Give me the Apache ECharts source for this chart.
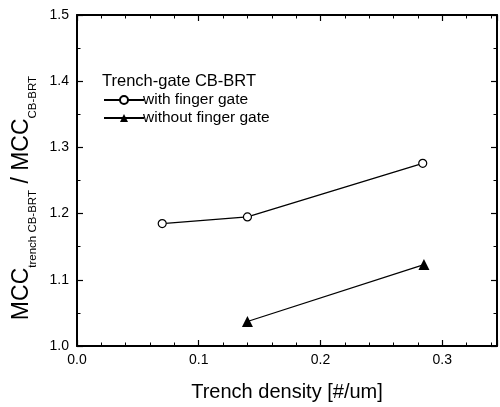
<!DOCTYPE html>
<html>
<head>
<meta charset="utf-8">
<script src="https://cdn.jsdelivr.net/npm/echarts@6/dist/echarts.min.js"></script>
<style>
  html, body { margin: 0; padding: 0; background: #fff; }
  #chart { width: 500px; height: 407px; }
</style>
</head>
<body>
<div id="chart"></div>
<script>
const densityWith    = [0.070, 0.140, 0.284]
const mccWith        = [1.185, 1.195, 1.276]
const densityWithout = [0.140, 0.285]
const mccWithout     = [1.037, 1.123]

const seriesNames = ['with finger gate', 'without finger gate']
const legendTitle = 'Trench-gate CB-BRT'
const xTitle      = 'Trench density [#/um]'

const FONT = '"Liberation Sans", Arial, sans-serif'

const chart = echarts.init(document.getElementById('chart'), null, { renderer: 'canvas' })

const pairs = (xs, ys) => xs.map((x, i) => [x, ys[i]])

const baseX = {
  type: 'value', min: 0, max: 0.345, interval: 0.1,
  axisLine:  { show: true, onZero: false, lineStyle: { color: '#000', width: 2 } },
  axisTick:  { show: true, inside: true, length: 6, lineStyle: { color: '#000', width: 1.2 } },
  minorTick: { show: true, splitNumber: 5, length: 3.5, lineStyle: { color: '#000', width: 1 } },
  splitLine: { show: false }
}
const baseY = {
  type: 'value', min: 1.0, max: 1.5, interval: 0.1,
  axisLine:  { show: true, onZero: false, lineStyle: { color: '#000', width: 2 } },
  axisTick:  { show: true, inside: true, length: 6, lineStyle: { color: '#000', width: 1.2 } },
  minorTick: { show: true, splitNumber: 2, length: 3.5, lineStyle: { color: '#000', width: 1 } },
  splitLine: { show: false }
}

chart.setOption({
  backgroundColor: '#fff',
  animation: false,
  grid: { left: 77, right: 3, top: 15, bottom: 55 },
  title: {
    text: legendTitle, left: 97, top: 68,
    textStyle: { fontFamily: FONT, fontSize: 16.5, fontWeight: 'normal', color: '#000' }
  },
  legend: {
    data: seriesNames,
    orient: 'vertical', left: 98, top: 87,
    itemWidth: 40, itemHeight: 10, itemGap: 2,
    textStyle: { fontFamily: FONT, fontSize: 15.5, color: '#000', padding: [0, 0, 0, -6] }
  },
  xAxis: [
    Object.assign({}, baseX, {
      position: 'bottom',
      name: xTitle, nameLocation: 'middle', nameGap: 36,
      nameTextStyle: { fontFamily: FONT, fontSize: 20, color: '#000' },
      axisLabel: { margin: 7, fontFamily: FONT, fontSize: 14, color: '#000',
                   showMaxLabel: false, formatter: v => v.toFixed(1) }
    }),
    Object.assign({}, baseX, { position: 'top', axisLabel: { show: false } })
  ],
  yAxis: [
    Object.assign({}, baseY, {
      position: 'left',
      axisLabel: { margin: 8, fontFamily: FONT, fontSize: 14, color: '#000',
                   formatter: v => v.toFixed(1) }
    }),
    Object.assign({}, baseY, { position: 'right', axisLabel: { show: false } })
  ],
  graphic: [{
    type: 'text', x: 23, y: 198, rotation: Math.PI / 2,
    style: {
      text: '{m|MCC}{s|trench CB-BRT}{m| / MCC}{s|CB-BRT}',
      align: 'center', verticalAlign: 'middle',
      fill: '#000', fontFamily: FONT,
      rich: {
        m: { fontFamily: FONT, fontSize: 23, lineHeight: 26, verticalAlign: 'top', fill: '#000' },
        s: { fontFamily: FONT, fontSize: 11.5, lineHeight: 14, padding: [17, 0, 0, 0], verticalAlign: 'top', fill: '#000' }
      }
    }
  }],
  series: [
    {
      name: seriesNames[0], type: 'line',
      data: pairs(densityWith, mccWith),
      symbol: 'circle', symbolSize: 8,
      itemStyle: { color: '#fff', borderColor: '#000', borderWidth: 1.2 },
      lineStyle: { color: '#000', width: 1.3 }
    },
    {
      name: seriesNames[1], type: 'line',
      data: pairs(densityWithout, mccWithout),
      symbol: 'triangle', symbolSize: 11,
      itemStyle: { color: '#000', borderColor: '#000', borderWidth: 0 },
      lineStyle: { color: '#000', width: 1.3 }
    }
  ]
})
</script>
</body>
</html>
